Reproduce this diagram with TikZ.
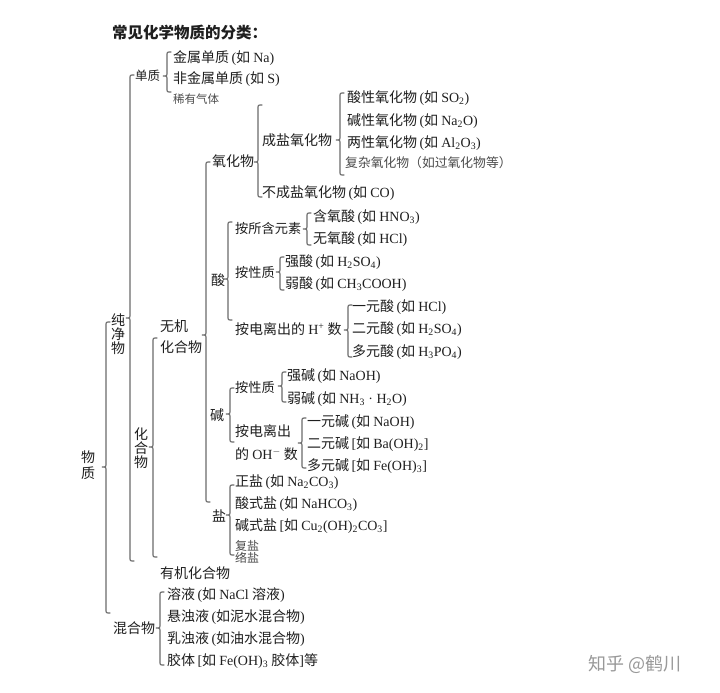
\documentclass[tikz,border=0pt]{standalone}
\usepackage{fontspec}
\setmainfont{Noto Sans CJK SC}
\newfontfamily\latf{Liberation Serif}
\newcommand\rmx[1]{{\latf #1}}
\newcommand\sbx[1]{\textsubscript{#1}}
\newcommand\mybrc[4]{% x, top y, tip y, bottom y
  \draw[brc] (#1+4,#2) .. controls (#1,#2) .. (#1,#2+4) -- (#1,#3-4)
    .. controls (#1,#3) .. (#1-4,#3) .. controls (#1,#3) .. (#1,#3+4)
    -- (#1,#4-4) .. controls (#1,#4) .. (#1+4,#4);}
\tikzset{
  txt/.style={anchor=west, inner sep=0pt, text=black!88, font=\fontsize{14}{16}\selectfont},
  sml/.style={txt, font=\fontsize{13.2}{16}\selectfont},
  hw/.style={anchor=west, inner sep=0pt, text=black!70, font=\fontsize{12}{14}\selectfont},
  vt/.style={inner sep=0pt, align=center, text=black!88, font=\fontsize{14}{14}\selectfont},
  brc/.style={draw=black!58, line width=1.15pt, line cap=round},
}
\begin{document}
\begin{tikzpicture}[x=1pt,y=-1pt]
\fill[white] (0,0) rectangle (720,693);
\useasboundingbox (0,0) rectangle (720,693);

% title
\node[txt, font=\fontsize{15.5}{17}\selectfont\bfseries] (title) at (112,33) {常见化学物质的分类：};

% vertical labels
\node[vt, font=\fontsize{14}{16}\selectfont] (wz) at (88,465) {物\\质};
\node[vt] (cjw) at (118,334) {纯\\净\\物};
\node[vt] (hhw) at (141,448) {化\\合\\物};

% 单质
\node[sml, font=\fontsize{12.5}{16}\selectfont] (dz) at (135,76) {单质};
\node[txt] (jsdz) at (173,58) {金属单质\rmx{\,(}如 \rmx{Na)}};
\node[txt] (fjsdz) at (173,79) {非金属单质\rmx{\,(}如 \rmx{S)}};
\node[hw, font=\fontsize{11.5}{13}\selectfont] (xyqt) at (173,99) {稀有气体};

% 无机化合物
\node[txt, align=left, font=\fontsize{14}{21}\selectfont] (wjhhw) at (160,337) {无机\\化合物};

% 氧化物
\node[txt] (yhw) at (212,161) {氧化物};
\node[txt] (cyyhw) at (262,140) {成盐氧化物};
\node[txt] (bcyyhw) at (262,193) {不成盐氧化物\rmx{\,(}如 \rmx{CO)}};
\node[txt] (sxyhw) at (347,98) {酸性氧化物\rmx{\,(}如 \rmx{SO\sbx{2})}};
\node[txt] (jxyhw) at (347,121) {碱性氧化物\rmx{\,(}如 \rmx{Na\sbx{2}O)}};
\node[txt] (lxyhw) at (347,143) {两性氧化物\rmx{\,(}如 \rmx{Al\sbx{2}O\sbx{3})}};
\node[hw, font=\fontsize{12.8}{14}\selectfont] (fzyhw) at (345,163) {复杂氧化物（如过氧化物等）};

% 酸
\node[txt] (suan) at (211,280) {酸};
\node[sml] (asy) at (235,228) {按所含元素};
\node[txt] (hys) at (313,217) {含氧酸\rmx{\,(}如 \rmx{HNO\sbx{3})}};
\node[txt] (wys) at (313,239) {无氧酸\rmx{\,(}如 \rmx{HCl)}};
\node[sml] (axza) at (235,272) {按性质};
\node[txt] (qs) at (285,262) {强酸\rmx{\,(}如 \rmx{H\sbx{2}SO\sbx{4})}};
\node[txt] (rs) at (285,284) {弱酸\rmx{\,(}如 \rmx{CH\sbx{3}COOH)}};
\node[txt] (adla) at (235,329) {按电离出的 \rmx{H\textsuperscript{+}} 数};
\node[txt] (yys) at (352,307) {一元酸\rmx{\,(}如 \rmx{HCl)}};
\node[txt] (eys) at (352,329) {二元酸\rmx{\,(}如 \rmx{H\sbx{2}SO\sbx{4})}};
\node[txt] (dys) at (352,352) {多元酸\rmx{\,(}如 \rmx{H\sbx{3}PO\sbx{4})}};

% 碱
\node[txt] (jian) at (210,415) {碱};
\node[sml] (axzb) at (235,387) {按性质};
\node[txt] (qj) at (287,376) {强碱\rmx{\,(}如 \rmx{NaOH)}};
\node[txt] (rj) at (287,399) {弱碱\rmx{\,(}如 \rmx{NH\sbx{3} · H\sbx{2}O)}};
\node[txt, align=left, font=\fontsize{14}{23}\selectfont] (adlb) at (235,443) {按电离出\\的 \rmx{OH\textsuperscript{$-$}} 数};
\node[txt] (yyj) at (307,422) {一元碱\rmx{\,(}如 \rmx{NaOH)}};
\node[txt] (eyj) at (307,444) {二元碱\rmx{\,[}如 \rmx{Ba(OH)\sbx{2}]}};
\node[txt] (dyj) at (307,466) {多元碱\rmx{\,[}如 \rmx{Fe(OH)\sbx{3}]}};

% 盐
\node[txt] (yan) at (212,516) {盐};
\node[txt] (zy) at (235,482) {正盐\rmx{\,(}如 \rmx{Na\sbx{2}CO\sbx{3})}};
\node[txt] (ssy) at (235,504) {酸式盐\rmx{\,(}如 \rmx{NaHCO\sbx{3})}};
\node[txt] (jsy) at (235,526) {碱式盐\rmx{\,[}如 \rmx{Cu\sbx{2}(OH)\sbx{2}CO\sbx{3}]}};
\node[hw] (fy) at (235,546) {复盐};
\node[hw] (ly) at (235,558) {络盐};

% 有机化合物
\node[txt] (yjhhw) at (160,573) {有机化合物};

% 混合物
\node[txt] (hhwm) at (113,628) {混合物};
\node[txt] (ry) at (167,595) {溶液\rmx{\,(}如 \rmx{NaCl} 溶液\rmx{)}};
\node[txt] (xzy) at (167,617) {悬浊液\rmx{\,(}如泥水混合物\rmx{)}};
\node[txt] (rzy) at (167,639) {乳浊液\rmx{\,(}如油水混合物\rmx{)}};
\node[txt] (jt) at (167,661) {胶体\rmx{\,[}如 \rmx{Fe(OH)\sbx{3}} 胶体\rmx{]}等};

% watermark
\node[anchor=west, inner sep=0pt, text=black!40, font=\fontsize{18}{20}\selectfont] (wm) at (588,664) {知乎 @鹤川};

% braces
\mybrc{106}{322}{467}{613}
\mybrc{130}{75}{318}{561}
\mybrc{167}{52}{76}{92}
\mybrc{153}{338}{447}{557}
\mybrc{206}{162}{335}{502}
\mybrc{258}{105}{162}{197}
\mybrc{340}{93}{140}{175}
\mybrc{228}{222}{279}{320}
\mybrc{307}{213}{229}{245}
\mybrc{280}{257}{272}{290}
\mybrc{348}{305}{330}{357}
\mybrc{230}{388}{414}{442}
\mybrc{282}{372}{386}{402}
\mybrc{302}{418}{443}{468}
\mybrc{230}{485}{515}{555}
\mybrc{160}{592}{628}{665}
\end{tikzpicture}
\end{document}
